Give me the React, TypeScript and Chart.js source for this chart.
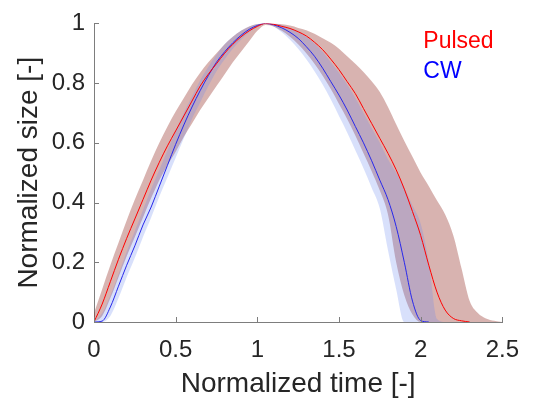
import { useEffect, useRef } from "react";
import { Chart, registerables } from "chart.js";
Chart.register(...registerables);

// Normalized time grid
const time = [
  0, 0.05, 0.1, 0.15, 0.2, 0.25, 0.3, 0.35, 0.4, 0.45,
  0.5, 0.55, 0.6, 0.65, 0.7, 0.75, 0.8, 0.85, 0.9, 0.95,
  1.0, 1.05, 1.1, 1.15, 1.2, 1.25, 1.3, 1.35, 1.4, 1.45,
  1.5, 1.55, 1.6, 1.65, 1.7, 1.75, 1.8, 1.85, 1.9, 1.95,
  2.0, 2.05, 2.1, 2.15, 2.2, 2.25, 2.3, 2.35, 2.4, 2.45, 2.5,
];

// Pulsed (red)
const pulsedMean = [
  0, 0.06, 0.135, 0.21, 0.28, 0.345, 0.41, 0.475, 0.535, 0.59,
  0.64, 0.69, 0.74, 0.79, 0.83, 0.865, 0.9, 0.93, 0.955, 0.975,
  0.99, 1.0, 0.997, 0.99, 0.983, 0.972, 0.958, 0.937, 0.912, 0.88,
  0.845, 0.805, 0.765, 0.715, 0.665, 0.615, 0.565, 0.51, 0.445, 0.37,
  0.29, 0.19, 0.1, 0.04, 0.012, 0.004, 0, null, null, null, null,
];
const pulsedLow = [
  0, 0.02, 0.08, 0.15, 0.22, 0.285, 0.35, 0.415, 0.475, 0.525,
  0.57, 0.62, 0.665, 0.71, 0.75, 0.79, 0.83, 0.87, 0.905, 0.94,
  0.975, 0.995, 0.99, 0.975, 0.955, 0.93, 0.9, 0.865, 0.825, 0.78,
  0.73, 0.68, 0.625, 0.565, 0.505, 0.44, 0.36, 0.2, 0.09, 0.025,
  0, 0, 0, 0, 0, 0, 0, 0, 0, 0, 0,
];
const pulsedHigh = [
  0.03, 0.11, 0.19, 0.265, 0.34, 0.41, 0.475, 0.54, 0.6, 0.655,
  0.705, 0.75, 0.795, 0.835, 0.87, 0.9, 0.93, 0.955, 0.975, 0.99,
  0.998, 1.0, 1.0, 0.997, 0.993, 0.985, 0.977, 0.965, 0.95, 0.935,
  0.915, 0.89, 0.865, 0.837, 0.806, 0.77, 0.72, 0.662, 0.606, 0.553,
  0.5, 0.455, 0.407, 0.36, 0.29, 0.18, 0.07, 0.03, 0.012, 0.004, 0,
];

// CW (blue)
const cwMean = [
  0, 0.003, 0.05, 0.12, 0.19, 0.255, 0.325, 0.385, 0.455, 0.525,
  0.595, 0.66, 0.72, 0.775, 0.825, 0.87, 0.905, 0.935, 0.96, 0.98,
  0.993, 1.0, 0.995, 0.985, 0.97, 0.95, 0.922, 0.89, 0.85, 0.805,
  0.76, 0.71, 0.655, 0.6, 0.54, 0.475, 0.41, 0.32, 0.2, 0.07,
  0.005, 0, null, null, null, null, null, null, null, null, null,
];
const cwLow = [
  0, 0, 0.02, 0.08, 0.15, 0.215, 0.285, 0.35, 0.42, 0.485,
  0.55, 0.615, 0.68, 0.735, 0.79, 0.84, 0.88, 0.915, 0.945, 0.97,
  0.99, 1.0, 0.99, 0.97, 0.945, 0.915, 0.88, 0.84, 0.795, 0.745,
  0.69, 0.635, 0.575, 0.515, 0.45, 0.38, 0.24, 0.11, 0, 0,
  0, 0, 0, 0, 0, 0, 0, 0, 0, 0, 0,
];
const cwHigh = [
  0, 0.03, 0.09, 0.16, 0.235, 0.305, 0.375, 0.445, 0.51, 0.575,
  0.64, 0.7, 0.755, 0.81, 0.855, 0.895, 0.93, 0.955, 0.975, 0.99,
  0.998, 1.0, 1.0, 0.995, 0.985, 0.972, 0.955, 0.933, 0.905, 0.87,
  0.835, 0.795, 0.75, 0.7, 0.65, 0.6, 0.545, 0.5, 0.45, 0.39,
  0.33, 0.2, 0.01, 0, 0, 0, 0, 0, 0, 0, 0,
];

const xTickValues = [0, 0.5, 1, 1.5, 2, 2.5];
const xTickLabels = ["0", "0.5", "1", "1.5", "2", "2.5"];
const yTickValues = [0, 0.2, 0.4, 0.6, 0.8, 1];
const yTickLabels = ["0", "0.2", "0.4", "0.6", "0.8", "1"];
const legendLabels = ["Pulsed", "CW"];
const legendColors = ["#ff0000", "#0000ff"];

const AXIS_COLOR = "rgb(125,125,125)";
const TEXT_COLOR = "#262626";
const FONT = "'Liberation Sans', Arial, Helvetica, sans-serif";

const pts = (arr: (number | null)[]) => time.map((t, i) => ({ x: t, y: arr[i] }));

const decorPlugin = {
  id: "decor",
  afterDraw(chart: any) {
    const { ctx, chartArea, scales } = chart;
    const x = scales.x;
    const y = scales.y;
    ctx.save();
    ctx.strokeStyle = AXIS_COLOR;
    ctx.lineWidth = 1;
    ctx.beginPath();
    xTickValues.forEach((v) => {
      const px = Math.round(x.getPixelForValue(v)) + 0.5;
      ctx.moveTo(px, chartArea.bottom);
      ctx.lineTo(px, chartArea.bottom - 5);
    });
    yTickValues.forEach((v) => {
      const py = Math.round(y.getPixelForValue(v)) + 0.5;
      ctx.moveTo(chartArea.left, py);
      ctx.lineTo(chartArea.left + 5, py);
    });
    ctx.stroke();
    ctx.font = `23px ${FONT}`;
    ctx.textAlign = "left";
    ctx.textBaseline = "alphabetic";
    legendLabels.forEach((lab, i) => {
      ctx.fillStyle = legendColors[i];
      ctx.fillText(lab, chartArea.right - 79, chartArea.top + 25 + i * 30);
    });
    ctx.restore();
  },
};

export default function App() {
  const ref = useRef<HTMLCanvasElement | null>(null);
  useEffect(() => {
    if (!ref.current) return;
    const bandLine = {
      pointRadius: 0,
      borderWidth: 0,
      borderColor: "transparent",
      cubicInterpolationMode: "monotone" as const,
    };
    const chart = new Chart(ref.current, {
      type: "line",
      data: {
        datasets: [
          { ...bandLine, data: pts(pulsedLow), fill: false, order: 6 },
          { ...bandLine, data: pts(pulsedHigh), fill: "-1", backgroundColor: "rgba(150,50,40,0.37)", order: 5 },
          { ...bandLine, data: pts(cwLow), fill: false, order: 4 },
          { ...bandLine, data: pts(cwHigh), fill: "-1", backgroundColor: "rgba(100,130,240,0.25)", order: 3 },
          {
            data: pts(cwMean), borderColor: "rgb(40,40,235)", borderWidth: 1, pointRadius: 0,
            fill: false, cubicInterpolationMode: "monotone", order: 2,
          },
          {
            data: pts(pulsedMean), borderColor: "rgb(255,0,0)", borderWidth: 1, pointRadius: 0,
            fill: false, cubicInterpolationMode: "monotone", order: 1,
          },
        ],
      },
      options: {
        animation: false,
        responsive: false,
        events: [],
        layout: { padding: { top: 18, right: 27, left: 0, bottom: 0 } },
        plugins: { legend: { display: false }, tooltip: { enabled: false } },
        scales: {
          x: {
            type: "linear",
            min: 0,
            max: 2.5,
            afterBuildTicks: (s: any) => { s.ticks = xTickValues.map((v) => ({ value: v })); },
            afterFit: (s: any) => { s.height = 79; },
            grid: { display: false, drawTicks: false },
            border: { display: true, color: AXIS_COLOR, width: 1 },
            ticks: {
              padding: 14,
              color: TEXT_COLOR,
              font: { family: FONT, size: 24 },
              maxRotation: 0,
              autoSkip: false,
              callback: (_v: any, i: number) => xTickLabels[i],
            },
            title: {
              display: true,
              text: "Normalized time [-]",
              color: TEXT_COLOR,
              font: { family: FONT, size: 28 },
              padding: { top: 0, bottom: 0 },
            },
          },
          y: {
            type: "linear",
            min: 0,
            max: 1,
            afterBuildTicks: (s: any) => { s.ticks = yTickValues.map((v) => ({ value: v })); },
            afterFit: (s: any) => { s.width = 94; },
            grid: { display: false, drawTicks: false },
            border: { display: true, color: AXIS_COLOR, width: 1 },
            ticks: {
              padding: 9,
              color: TEXT_COLOR,
              font: { family: FONT, size: 24 },
              autoSkip: false,
              callback: (_v: any, i: number) => yTickLabels[i],
            },
            title: {
              display: true,
              text: "Normalized size [-]",
              color: TEXT_COLOR,
              font: { family: FONT, size: 28 },
              padding: { top: 12, bottom: 0 },
            },
          },
        },
      },
      plugins: [decorPlugin],
    });
    return () => chart.destroy();
  }, []);
  return (
    <div style={{ position: "absolute", left: 0, top: 0, width: 533, height: 401 }}>
      <canvas ref={ref} width={533} height={401} />
    </div>
  );
}
